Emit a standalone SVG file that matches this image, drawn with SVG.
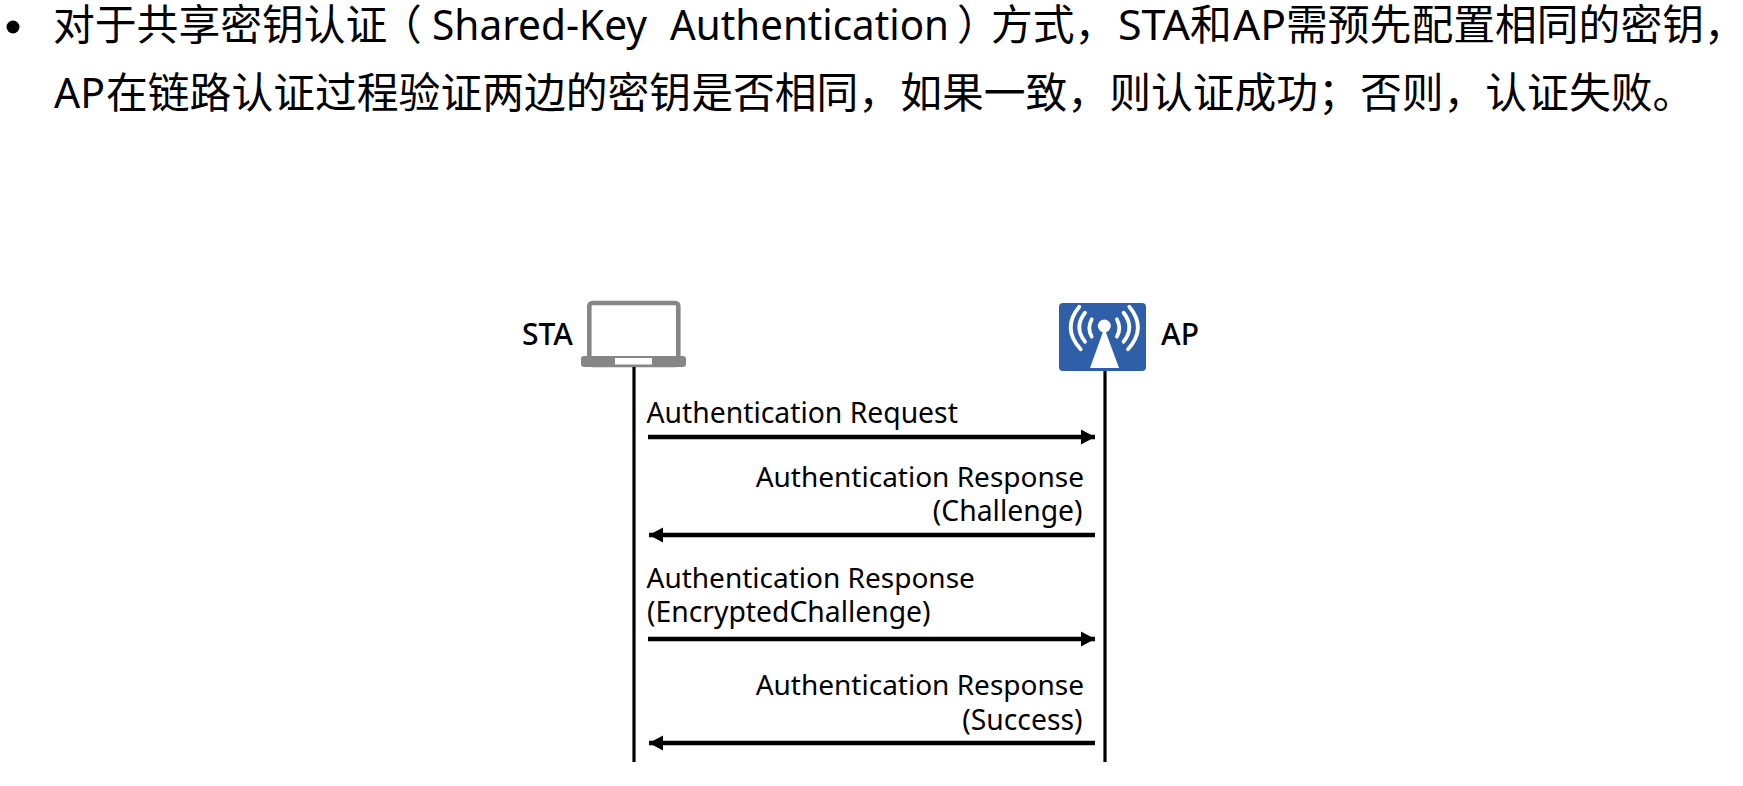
<svg xmlns="http://www.w3.org/2000/svg" width="1743" height="786" viewBox="0 0 1743 786">
<style>
text{font-family:"Noto Sans","Noto Sans CJK SC",sans-serif;fill:#000}
.h{font-size:41.8px;font-family:"Noto Sans CJK SC","Noto Sans",sans-serif}
.lat{font-family:"Noto Sans",sans-serif}
.l{font-size:28px}
.s{font-size:28.3px}
.n{font-size:30px;font-weight:500}
.r{text-anchor:end}
.msg{stroke:#000;stroke-width:4.7;fill:none}
.life{stroke:#000;stroke-width:3.2;fill:none}
.arc{fill:none;stroke:#fff;stroke-width:3.8;stroke-linecap:round}
</style>
<defs>
<marker id="a" markerUnits="userSpaceOnUse" markerWidth="16" markerHeight="16" refX="14" refY="8" orient="auto"><path d="M0 0.5L14 8L0 15.5Z" fill="#000"/></marker>
</defs>
<rect width="1743" height="786" fill="#fff"/>
<g id="heading">
<circle cx="13" cy="27" r="6.5" fill="#000"/>
<text class="h" y="39.5"><tspan x="53">对于共享密钥认证</tspan><tspan x="380">（</tspan><tspan class="lat" x="432" textLength="215" lengthAdjust="spacingAndGlyphs">Shared-Key</tspan><tspan class="lat" x="670" textLength="279" lengthAdjust="spacingAndGlyphs">Authentication</tspan><tspan x="957">）</tspan><tspan x="991">方式，</tspan><tspan class="lat" x="1118" textLength="72" lengthAdjust="spacingAndGlyphs">STA</tspan><tspan x="1190">和</tspan><tspan class="lat" x="1233" textLength="53" lengthAdjust="spacingAndGlyphs">AP</tspan><tspan x="1286">需预先配置相同的密钥，</tspan></text>
<text class="h" y="108"><tspan class="lat" x="54" textLength="51" lengthAdjust="spacingAndGlyphs">AP</tspan><tspan x="106">在链路认证过程验证两边的密钥是否相同，如果一致，则认证成功；否则，认证失败。</tspan></text>
</g>
<g id="sta">
<text class="n" x="522" y="345">STA</text>
<rect x="589.3" y="303" width="89" height="62" rx="3" fill="#fff" stroke="#868686" stroke-width="4.6"/>
<rect x="581" y="356" width="105" height="11" rx="3" fill="#868686"/>
<rect x="615" y="358" width="37" height="6.5" fill="#fff"/>
</g>
<g id="ap">
<rect x="1059" y="303" width="87" height="68" rx="4" fill="#2f5fa8"/>
<path class="arc" d="M1079.3 306.7Q1061.4 328 1080.7 349.3"/>
<path class="arc" d="M1085 312.7Q1073.6 327 1085 341.7"/>
<path class="arc" d="M1091.7 319.3Q1086.9 328 1091.7 336.7"/>
<path class="arc" d="M1129.3 306.7Q1147.2 328 1128 349.3"/>
<path class="arc" d="M1123.6 312.7Q1135 327 1123.6 341.7"/>
<path class="arc" d="M1116.9 319.3Q1121.7 328 1116.9 336.7"/>
<circle cx="1104.3" cy="326" r="6.5" fill="#fff"/>
<path d="M1104.3 328L1119 368H1090Z" fill="#fff"/>
<text class="n" x="1161" y="345">AP</text>
</g>
<g id="connectors">
<path class="life" d="M634 367V762"/>
<path class="life" d="M1105 371V762"/>
<path class="msg" marker-end="url(#a)" d="M648 437H1095"/>
<path class="msg" marker-end="url(#a)" d="M1095 535H649"/>
<path class="msg" marker-end="url(#a)" d="M648 639H1095"/>
<path class="msg" marker-end="url(#a)" d="M1095 743H649"/>
</g>
<g id="labels">
<text class="s" x="646.5" y="422.5">Authentication Request</text>
<text class="r"><tspan class="l" x="1084" y="486.5">Authentication Response</tspan><tspan class="s" x="1082.5" y="520.5">(Challenge)</tspan></text>
<text><tspan class="l" x="646.5" y="587.5">Authentication Response</tspan><tspan class="s" x="647" y="621.5">(EncryptedChallenge)</tspan></text>
<text class="r"><tspan class="l" x="1084" y="694.5">Authentication Response</tspan><tspan class="s" x="1082.5" y="729.5">(Success)</tspan></text>
</g>
</svg>
